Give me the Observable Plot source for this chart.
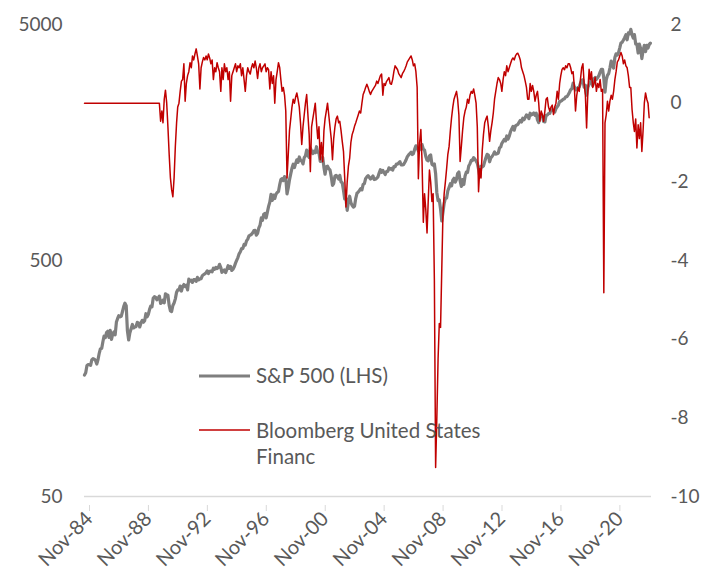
<!DOCTYPE html>
<html><head><meta charset="utf-8">
<script src="https://cdn.jsdelivr.net/npm/d3@7"></script>
<script src="https://cdn.jsdelivr.net/npm/@observablehq/plot@0.6"></script>
<style>
body{margin:0;background:#fff;}
#chart{position:relative;width:702px;height:574px;}
</style>
</head><body><div id="chart"></div>
<script>
// ---------- DATA ----------
// S&P 500, monthly closes starting Nov-1984 (left, log scale)
const spxStart = "1984-11";
const spx = [
  163.6, 167.2,
  179.6, 181.2, 180.7, 179.8, 189.6, 191.9, 190.9, 188.6, 182.1, 189.8, 202.2, 211.3,
  211.8, 226.9, 238.9, 235.5, 247.4, 250.8, 236.1, 252.9, 231.3, 244.0, 249.2, 242.2,
  274.1, 284.2, 291.7, 288.4, 290.1, 304.0, 318.7, 329.8, 321.8, 251.8, 230.3, 247.1,
  257.1, 267.8, 258.9, 261.3, 262.2, 273.5, 272.0, 261.5, 271.9, 279.0, 273.7, 277.7,
  297.5, 288.9, 294.9, 309.6, 320.5, 318.0, 346.1, 351.5, 349.2, 340.4, 346.0, 353.4,
  329.1, 331.9, 339.9, 330.8, 361.2, 358.0, 356.2, 322.6, 306.1, 304.0, 322.2, 330.2,
  343.9, 367.1, 375.2, 375.3, 389.8, 371.2, 387.8, 395.4, 387.9, 392.5, 375.2, 417.1,
  408.8, 412.7, 403.7, 415.0, 415.4, 408.1, 424.2, 414.0, 417.8, 418.7, 431.4, 435.7,
  438.8, 443.4, 451.7, 440.2, 450.2, 450.5, 448.1, 463.6, 458.9, 467.8, 461.8, 466.5,
  481.6, 467.1, 445.8, 450.9, 456.5, 444.3, 458.3, 475.5, 462.7, 472.4, 453.7, 459.3,
  470.4, 487.4, 500.7, 514.7, 533.4, 544.8, 562.1, 561.9, 584.4, 581.5, 605.4, 615.9,
  636.0, 640.4, 645.5, 654.2, 669.1, 670.6, 639.9, 652.0, 687.3, 705.3, 757.0, 740.7,
  786.2, 790.8, 757.1, 801.3, 848.3, 885.1, 954.3, 899.5, 947.3, 914.6, 955.4, 970.4,
  980.3, 1049.3, 1101.8, 1111.8, 1090.8, 1133.8, 1120.7, 957.3, 1017.0, 1098.7, 1163.6, 1229.2,
  1279.6, 1238.3, 1286.4, 1335.2, 1301.8, 1372.7, 1328.7, 1320.4, 1282.7, 1362.9, 1388.9, 1469.3,
  1394.5, 1366.4, 1498.6, 1452.4, 1420.6, 1454.6, 1430.8, 1517.7, 1436.5, 1429.4, 1315.2, 1320.3,
  1366.0, 1239.9, 1160.3, 1249.5, 1255.8, 1224.4, 1211.2, 1133.6, 1040.9, 1059.8, 1139.5, 1148.1,
  1130.2, 1106.7, 1147.4, 1076.9, 1067.1, 989.8, 911.6, 916.1, 815.3, 885.8, 936.3, 879.8,
  855.7, 841.2, 848.2, 916.9, 963.6, 974.5, 990.3, 1008.0, 996.0, 1050.7, 1058.2, 1111.9,
  1131.1, 1144.9, 1126.2, 1107.3, 1120.7, 1140.8, 1101.7, 1104.2, 1114.6, 1130.2, 1173.8, 1211.9,
  1181.3, 1203.6, 1180.6, 1156.9, 1191.5, 1191.3, 1234.2, 1220.3, 1228.8, 1207.0, 1249.5, 1248.3,
  1280.1, 1280.7, 1294.8, 1310.6, 1270.1, 1270.2, 1276.7, 1303.8, 1335.9, 1377.9, 1400.6, 1418.3,
  1438.2, 1406.8, 1420.9, 1482.4, 1530.6, 1503.4, 1455.3, 1474.0, 1526.8, 1549.4, 1481.1, 1468.4,
  1378.6, 1330.6, 1322.7, 1385.6, 1400.4, 1280.0, 1267.4, 1282.8, 1166.4, 968.8, 896.2, 903.3,
  825.9, 735.1, 797.9, 872.8, 919.1, 919.3, 987.5, 1020.6, 1057.1, 1036.2, 1095.6, 1115.1,
  1073.9, 1104.5, 1169.4, 1186.7, 1089.4, 1030.7, 1101.6, 1049.3, 1141.2, 1183.3, 1180.6, 1257.6,
  1286.1, 1327.2, 1325.8, 1363.6, 1345.2, 1320.6, 1292.3, 1218.9, 1131.4, 1253.3, 1247.0, 1257.6,
  1312.4, 1365.7, 1408.5, 1397.9, 1310.3, 1362.2, 1379.3, 1406.6, 1440.7, 1412.2, 1416.2, 1426.2,
  1498.1, 1514.7, 1569.2, 1597.6, 1630.7, 1606.3, 1685.7, 1633.0, 1681.6, 1756.5, 1805.8, 1848.4,
  1782.6, 1859.5, 1872.3, 1884.0, 1923.6, 1960.2, 1930.7, 2003.4, 1972.3, 2018.1, 2067.6, 2058.9,
  1995.0, 2104.5, 2067.9, 2085.5, 2107.4, 2063.1, 2103.8, 1972.2, 1920.0, 2079.4, 2080.4, 2043.9,
  1940.2, 1932.2, 2059.7, 2065.3, 2097.0, 2098.9, 2173.6, 2171.0, 2168.3, 2126.2, 2199.0, 2238.8,
  2278.9, 2363.6, 2362.7, 2384.2, 2411.8, 2423.4, 2470.3, 2471.7, 2519.4, 2575.3, 2647.6, 2673.6,
  2823.8, 2713.8, 2640.9, 2648.1, 2705.3, 2718.4, 2816.3, 2901.5, 2914.0, 2711.7, 2760.2, 2506.9,
  2704.1, 2784.5, 2834.4, 2945.8, 2752.1, 2941.8, 2980.4, 2926.5, 2976.7, 3037.6, 3141.0, 3230.8,
  3225.5, 2954.2, 2584.6, 2912.4, 3044.3, 3100.3, 3271.1, 3500.3, 3363.0, 3270.0, 3621.6, 3756.1,
  3714.2, 3811.2, 3972.9, 4181.2, 4204.1, 4297.5, 4395.3, 4522.7, 4307.5, 4605.4, 4567.0, 4766.2,
  4515.6, 4373.9, 4530.4, 4131.9, 4132.2, 3785.4, 4130.3, 3955.0, 3585.6, 3872.0, 4080.1, 3839.5,
  4076.6, 3970.2, 4109.3, 4169.5
];

// Bloomberg United States Financial Conditions index (right axis)
const fciFlatStart = "1984-11";   // flat 0 before the series starts
const fciStart = "1989-11";        // monthly values from here
const fci = [
  0, 0,
  -0.46, -0.2, -0.5, 0.1, 0.33, 0.0, -0.6, -1.3, -1.9, -2.2, -2.38, -1.9,
  -1.1, -0.5, -0.1, 0.0, 0.3, 0.56, 0.6, 1.0, 0.05, 0.5, 0.7, 0.8,
  1.03, 0.9, 1.2, 1.1, 1.25, 1.38, 1.2, 1.0, 0.36, 0.9, 1.05, 1.16,
  1.1, 1.2, 1.1, 1.25, 1.15, 1.0, 1.1, 0.6, 0.9, 0.8, 1.03, 0.9,
  0.8, 0.3, 0.9, 0.6, 1.0, 0.8, 0.9, 0.6, 0.8, 0.05, 0.7, 0.8,
  0.9, 1.0, 0.8, 0.95, 0.9, 1.0, 0.7, 0.9, 0.6, 0.3, 0.7, 0.9,
  0.8, 0.74, 0.9, 1.0, 0.9, 1.07, 0.9, 0.63, 0.9, 1.0, 0.8, 0.9,
  0.95, 1.0, 0.8, 0.9, 0.85, 0.36, 0.8, 0.5, 0.7, 0.0, 0.6, 0.8,
  1.03, 0.9, 0.6, 0.3, 0.4, 0.2, -0.2, -1.9, -1.3, -0.7, -0.4, -0.1,
  0.1, 0.0, 0.15, 0.26, 0.1, -0.1, -0.5, -1.05, -0.6, -0.3, 0.0, 0.22,
  -0.3, -0.8, -1.74, -0.6, -0.4, -0.2, 0.0, -0.5, -0.9, -0.6, -1.44, -1.0,
  -1.49, -0.7, -0.4, -0.2, 0.0, -0.3, -0.6, -0.9, -1.44, -0.9, -0.6, -0.4,
  -0.33, -0.5, -0.46, -0.7, -0.97, -1.23, -1.9, -2.64, -2.0, -1.6, -1.4, -1.0,
  -0.8, -0.7, -0.59, -0.5, -0.4, -0.3, -0.2, -0.25, 0.0, 0.22, 0.3, 0.4,
  0.48, 0.4, 0.3, 0.22, 0.3, 0.35, 0.4, 0.45, 0.56, 0.5, 0.6, 0.7,
  0.74, 0.2, 0.5, 0.45, 0.55, 0.6, 0.65, 0.5, 0.48, 0.6, 0.8, 0.95,
  0.9, 0.85, 0.75, 0.7, 0.65, 0.75, 0.8, 0.87, 0.95, 1.05, 1.1, 1.15,
  1.2, 1.1, 0.95, 1.0, 0.8, 0.4, -1.92, -1.0, -0.67, -1.5, -3.03, -2.3,
  -2.7, -3.3, -2.5, -1.7, -2.0, -2.5, -2.3, -4.5, -9.26, -8.0, -6.5, -5.6,
  -5.7, -4.2, -2.85, -2.3, -2.0, -1.66, -1.3, -1.1, -0.7, -0.37, -0.1, 0.1,
  0.2, 0.3, 0.1, -0.3, -1.48, -1.1, -0.7, -0.37, -0.2, -0.1, 0.1, 0.0,
  0.2, 0.3, 0.25, 0.36, 0.2, 0.0, -0.6, -2.25, -1.66, -1.9, -1.2, -0.8,
  -0.5, -0.4, -0.33, -0.6, -0.97, -0.7, -0.5, -0.25, 0.1, 0.3, 0.5, 0.65,
  0.6, 0.5, 0.3, 0.6, 0.8, 0.7, 0.95, 0.8, 0.9, 1.0, 1.1, 1.15,
  1.1, 1.2, 1.25, 1.27, 1.2, 1.1, 0.9, 0.8, 0.7, 0.56, 0.4, 0.1,
  0.1, 0.5, 0.3, 0.45, 0.3, 0.05, 0.2, 0.3, 0.0, -0.46, -0.2, -0.3,
  -0.46, -0.2, 0.1, 0.14, -0.1, -0.2, -0.1, -0.05, -0.29, -0.1, 0.0, 0.3,
  0.1, 0.5, 0.7, 0.86, 0.9, 0.85, 0.95, 0.9, 1.0, 1.0, 0.9, 0.75,
  0.8, 0.4, -0.2, 0.2, 0.4, 0.3, 0.6, 0.9, 1.0, 0.5, 0.2, -0.63,
  0.3, 0.86, 0.6, 0.8, 0.4, 0.5, 0.65, 0.3, 0.5, 0.4, 0.6, 0.3,
  0.35, -4.82, -0.5, -0.29, 0.05, -0.2, 0.05, 0.2, 0.1, 0.3, 0.6, 0.8,
  1.05, 1.1, 1.2, 1.29, 1.2, 1.0, 1.1, 0.95, 0.9, 0.7, 0.4, 0.4,
  -0.16, -0.5, -0.72, -0.4, -1.14, -0.55, -0.9, -0.5, -1.23, -0.7, 0.0, 0.26,
  0.1, 0.0, -0.37
];

const xTickYears = [1984, 1988, 1992, 1996, 2000, 2004, 2008, 2012, 2016, 2020];
const xTickMonth = "Nov";
const leftTicks = [50, 500, 5000];
const rightTicks = [-10, -8, -6, -4, -2, 0, 2];
const leftDomain = [50, 5000];
const rightDomain = [-10, 2];
const xEnd = "2023-04-28";
const seriesNames = ["S&P 500 (LHS)", "Bloomberg United States", "Financ"];
const colors = {spx: "#7f7f7f", fci: "#c00000", text: "#595959", axis: "#d9d9d9"};

// ---------- helpers ----------
function monthDate(start, i) {
  const [y, m] = start.split("-").map(Number);
  return new Date(Date.UTC(y, m - 1 + i, 1));
}
// map right-axis value onto the left log scale
function toLeft(v) {
  const t = (v - rightDomain[0]) / (rightDomain[1] - rightDomain[0]);
  return leftDomain[0] * Math.pow(leftDomain[1] / leftDomain[0], t);
}
function fromLeft(d) {
  const t = Math.log(d / leftDomain[0]) / Math.log(leftDomain[1] / leftDomain[0]);
  return Math.round(rightDomain[0] + t * (rightDomain[1] - rightDomain[0]));
}

const spxData = spx.map((v, i) => ({date: monthDate(spxStart, i), value: v}));
const fciData = [{date: monthDate(fciFlatStart, 0), value: 0}]
  .concat(fci.map((v, i) => ({date: monthDate(fciStart, i), value: v})));
const xTicks = xTickYears.map(y => new Date(Date.UTC(y, 10, 1)));

const FONT = "Lato, 'Open Sans', sans-serif";

const chart = Plot.plot({
  width: 702, height: 574,
  marginLeft: 84, marginRight: 51, marginTop: 24, marginBottom: 78,
  style: {fontFamily: FONT, fontSize: "19px", color: colors.text, background: "#fff", overflow: "visible"},
  x: {type: "utc", domain: [monthDate(spxStart, 0), new Date(xEnd)]},
  y: {type: "log", domain: leftDomain},
  marks: [
    Plot.ruleY([leftDomain[0]], {stroke: colors.axis, strokeWidth: 1.4}),
    Plot.axisX({
      ticks: xTicks, tickSize: 6, stroke: colors.axis, fill: colors.text,
      tickRotate: -45, tickPadding: 4, dx: 5, dy: 9, fontSize: 20,
      tickFormat: d => xTickMonth + "-" + String(d.getUTCFullYear()).slice(2),
      label: null
    }),
    Plot.axisY({anchor: "left", ticks: leftTicks, tickSize: 0, tickPadding: 22,
      tickFormat: d => String(d), fill: colors.text, label: null}),
    Plot.axisY({anchor: "right", ticks: rightTicks.map(toLeft), tickSize: 0, tickPadding: 19,
      tickFormat: d => String(fromLeft(d)), fill: colors.text, label: null}),
    Plot.line(spxData, {x: "date", y: "value", stroke: colors.spx, strokeWidth: 3.2, curve: "linear"}),
    Plot.line(fciData, {x: "date", y: d => toLeft(d.value), stroke: colors.fci, strokeWidth: 1.5, curve: "linear"})
  ]
});

// legend (inside the plot area)
const svg = d3.select(chart);
const lg = svg.append("g").attr("font-family", FONT).attr("font-size", 20.5)
  .attr("fill", colors.text).attr("text-anchor", "start");
lg.append("line").attr("x1", 199).attr("x2", 250).attr("y1", 376).attr("y2", 376)
  .attr("stroke", colors.spx).attr("stroke-width", 3.2);
lg.append("text").attr("x", 256).attr("y", 376).attr("dy", "0.35em").text(seriesNames[0]);
lg.append("line").attr("x1", 199).attr("x2", 250).attr("y1", 430).attr("y2", 430)
  .attr("stroke", colors.fci).attr("stroke-width", 1.5);
lg.append("text").attr("x", 256).attr("y", 431).attr("dy", "0.35em").text(seriesNames[1]);
lg.append("text").attr("x", 256).attr("y", 457).attr("dy", "0.35em").text(seriesNames[2]);

document.getElementById("chart").appendChild(chart);
</script>
</body></html>
